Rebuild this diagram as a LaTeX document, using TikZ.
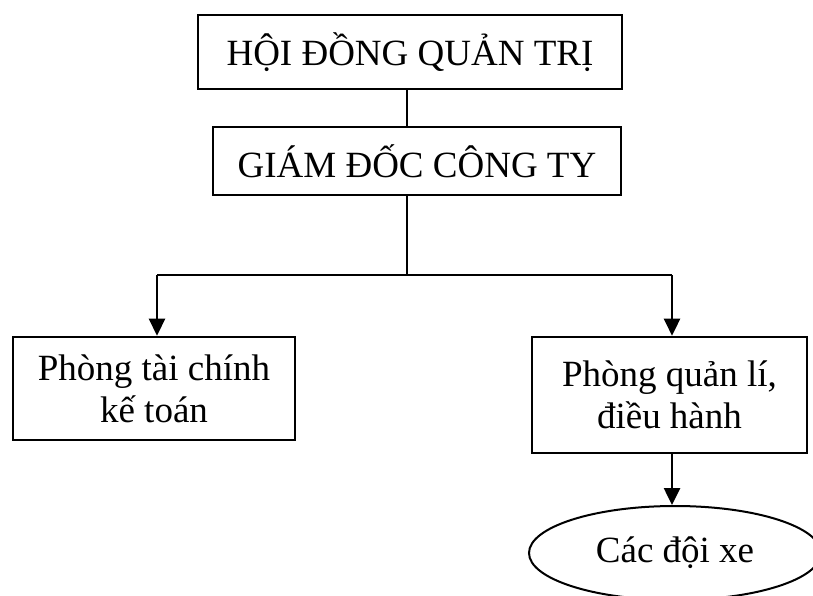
\documentclass[tikz,border=0pt]{standalone}
\usepackage{fontspec}
\setmainfont{Liberation Serif}
\usetikzlibrary{arrows.meta,shapes.geometric}
\begin{document}
\begin{tikzpicture}[x=1pt,y=-1pt,
  box/.style={draw=black,line width=2.6pt,inner sep=0pt,align=center,
    font=\fontsize{37}{42}\selectfont},
  conn/.style={line width=2.6pt},
  arr/.style={line width=2.6pt,-{Triangle[width=16pt,length=17pt]}}]
\useasboundingbox (0,0) rectangle (813,596);
\node[box,minimum width=424pt,minimum height=74pt] (b1) at (410,52) {HỘI ĐỒNG QUẢN TRỊ};
\node[box,minimum width=408pt,minimum height=68pt] (b2) at (417,161) {GIÁM ĐỐC CÔNG TY};
\node[box,minimum width=282pt,minimum height=103pt] (b3) at (154,388.5) {Phòng tài chính\\kế toán};
\node[box,minimum width=275pt,minimum height=116pt] (b4) at (669.5,395) {Phòng quản lí,\\điều hành};
\node[box,ellipse,inner sep=0pt,line width=2pt,minimum width=292pt,minimum height=94pt] (el) at (675,553) {Các đội xe};
\coordinate (jm) at (407,275);
\coordinate (jl) at (157,275);
\coordinate (jr) at (672,275);
\draw[conn] (b1.south -| jm) -- (b2.north -| jm);
\draw[conn] (b2.south -| jm) -- (jm);
\draw[conn] (jl) -- (jr);
\draw[arr] (jl) -- (jl |- b3.north);
\draw[arr] (jr) -- (jr |- b4.north);
\draw[arr] (b4.south -| jr) -- (jr |- el.north);
\end{tikzpicture}
\end{document}
